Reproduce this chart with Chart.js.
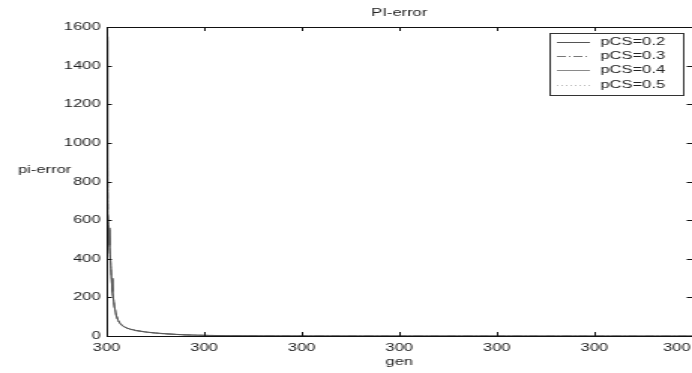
<!doctype html>
<html>
<head>
<title>PI-error</title>
<script src="https://cdn.jsdelivr.net/npm/chart.js@4"></script>
<style>
	html, body { margin: 0; padding: 0; background: #fff; }
	#canvas { display: block; }
</style>
</head>
<body>
<!-- the source picture is stretched sideways, so the canvas is drawn narrow and widened by css -->
<canvas id="canvas" width="461" height="373" style="width:692px;height:373px"></canvas>
<script>
	const gens = [0, 0.3, 0.6, 1, 1.5, 2, 2.5, 3, 4, 5, 6, 7, 8, 10, 12, 15, 20, 25, 30, 40, 50, 60, 80, 100, 150, 200, 250, 300];
	const pcs02 = [1550, 1050, 650, 560, 470, 390, 300, 230, 155, 105, 80, 65, 55, 43, 36, 29, 21, 16, 12, 6, 3.5, 2, 1, 0.5, 0.2, 0.1, 0, 0];
	const pcs03 = [1540, 1040, 645, 555, 465, 385, 297, 228, 153, 104, 79, 64, 54, 42, 35, 28, 21, 15, 11, 6, 3.5, 2, 1, 0.5, 0.2, 0.1, 0, 0];
	const pcs04 = [1530, 1030, 640, 550, 460, 380, 294, 225, 151, 103, 78, 63, 53, 42, 35, 28, 20, 15, 11, 5.5, 3, 1.8, 0.9, 0.4, 0.2, 0.1, 0, 0];
	const pcs05 = [1520, 1020, 635, 545, 455, 376, 290, 222, 150, 102, 77, 62, 52, 41, 34, 27, 20, 15, 11, 5.5, 3, 1.8, 0.9, 0.4, 0.2, 0.1, 0, 0];
	const seriesLabels = ['pCS=0.2', 'pCS=0.3', 'pCS=0.4', 'pCS=0.5'];
	const xTickLabels = ['300', '300', '300', '300', '300', '300', '300'];
	const xTickValues = [0, 50, 100, 150, 200, 250, 300];
	const yTickValues = [0, 200, 400, 600, 800, 1000, 1200, 1400, 1600];

	const FONT = '11px "Liberation Sans", Arial, sans-serif';
	const INK = '#222';

	const toPoints = (ys) => gens.map((g, i) => ({x: g, y: ys[i]}));

	const styles = [
		{color: '#555', dash: []},
		{color: '#777', dash: [6, 2, 1, 2]},
		{color: '#8a8a8a', dash: []},
		{color: '#bbb', dash: [1, 2]}
	];

	const datasets = [pcs02, pcs03, pcs04, pcs05].map((ys, i) => ({
		label: seriesLabels[i],
		data: toPoints(ys),
		borderColor: styles[i].color,
		borderDash: styles[i].dash,
		borderWidth: 1,
		pointRadius: 0,
		tension: 0,
		fill: false
	}));

	// matlab-like frame: box, inward ticks, x labels, titles and legend
	const matlabFrame = {
		id: 'matlabFrame',
		afterDraw(chart) {
			const ctx = chart.ctx;
			const a = chart.chartArea;
			const xs = chart.scales.x;
			const ys = chart.scales.y;
			ctx.save();
			ctx.strokeStyle = '#111';
			ctx.lineWidth = 1;
			ctx.setLineDash([]);
			ctx.strokeRect(Math.round(a.left) + 0.5, Math.round(a.top) + 0.5, Math.round(a.right - a.left), Math.round(a.bottom - a.top));

			ctx.beginPath();
			xTickValues.forEach((v) => {
				const px = Math.round(xs.getPixelForValue(v)) + 0.5;
				ctx.moveTo(px, a.bottom); ctx.lineTo(px, a.bottom - 4);
				ctx.moveTo(px, a.top); ctx.lineTo(px, a.top + 4);
			});
			yTickValues.forEach((v) => {
				const py = Math.round(ys.getPixelForValue(v)) + 0.5;
				ctx.moveTo(a.left, py); ctx.lineTo(a.left + 3.5, py);
				ctx.moveTo(a.right, py); ctx.lineTo(a.right - 3.5, py);
			});
			ctx.stroke();

			ctx.fillStyle = INK;
			ctx.font = FONT;
			ctx.textBaseline = 'middle';
			xTickValues.forEach((v, i) => {
				const px = xs.getPixelForValue(v);
				const w = ctx.measureText(xTickLabels[i]).width;
				ctx.textAlign = 'left';
				ctx.fillText(xTickLabels[i], Math.min(px - w / 2, chart.width - w - 1), a.bottom + 12);
			});

			ctx.textAlign = 'center';
			ctx.fillText('gen', (a.left + a.right) / 2, a.bottom + 26);
			ctx.fillText('PI-error', (a.left + a.right) / 2, 13);
			ctx.textAlign = 'left';
			ctx.fillText('pi-error', 12, 170);

			// legend
			const lx = 366, ly = 33, lw = 89, lh = 62;
			ctx.fillStyle = '#fff';
			ctx.fillRect(lx, ly, lw, lh);
			ctx.strokeStyle = '#333';
			ctx.strokeRect(lx + 0.5, ly + 0.5, lw, lh);
			chart.data.datasets.forEach((ds, i) => {
				const y = ly + 9 + i * 14.2;
				ctx.strokeStyle = ds.borderColor;
				ctx.setLineDash(ds.borderDash);
				ctx.beginPath();
				ctx.moveTo(371, Math.round(y) + 0.5);
				ctx.lineTo(393, Math.round(y) + 0.5);
				ctx.stroke();
				ctx.setLineDash([]);
				ctx.fillStyle = INK;
				ctx.fillText(ds.label, 400, y);
			});
			ctx.restore();
		}
	};

	const chart = new Chart(document.getElementById('canvas'), {
		type: 'line',
		data: {datasets: datasets},
		options: {
			responsive: false,
			animation: false,
			devicePixelRatio: 1,
			layout: {padding: {top: 27, left: 0, right: 0, bottom: 0}},
			plugins: {
				legend: {display: false},
				title: {display: false},
				tooltip: {enabled: false}
			},
			scales: {
				x: {
					type: 'linear',
					min: 0,
					max: 300,
					grid: {display: false, drawTicks: false},
					border: {display: false},
					ticks: {display: false},
					afterFit(scale) { scale.height = 37; scale.paddingLeft = 0; scale.paddingRight = 0; }
				},
				y: {
					min: 0,
					max: 1600,
					grid: {display: false, drawTicks: false},
					border: {display: false},
					ticks: {
						stepSize: 200,
						padding: 4,
						color: INK,
						font: {family: '"Liberation Sans", Arial, sans-serif', size: 11},
						callback: (v) => String(v)
					},
					afterFit(scale) { scale.width = 71; }
				}
			}
		},
		plugins: [matlabFrame]
	});
</script>
</body>
</html>
